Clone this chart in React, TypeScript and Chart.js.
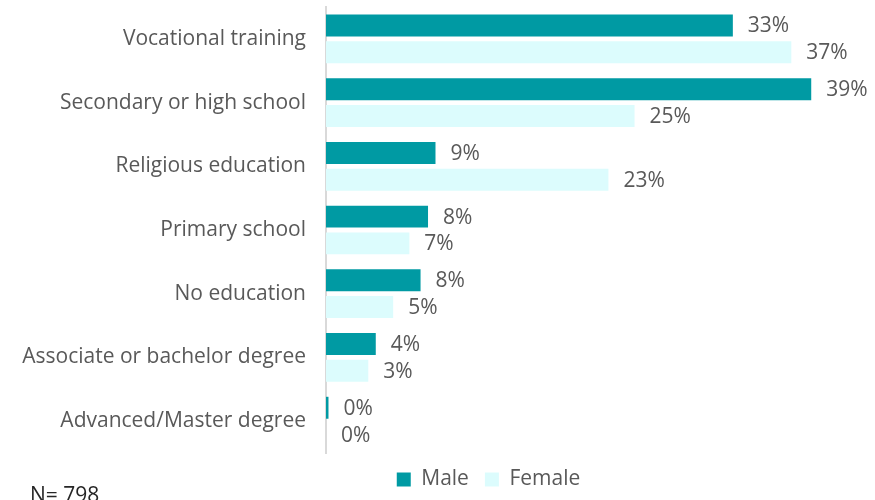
import React, { useEffect, useRef } from "react";
import { Chart, registerables } from "chart.js";

Chart.register(...registerables);

const categories = [
  "Vocational training",
  "Secondary or high school",
  "Religious education",
  "Primary school",
  "No education",
  "Associate or bachelor degree",
  "Advanced/Master degree",
];
const maleValues = [32.7, 39.0, 8.8, 8.2, 7.6, 4.0, 0.2];
const femaleValues = [37.4, 24.8, 22.7, 6.7, 5.4, 3.4, 0.0];
const seriesNames = ["Male", "Female"];
const noteText = "N= 798";

const FONT = "'Open Sans', Lato, sans-serif";
const TEXT = "#595959";
const SIZE = 21;

const valueLabels = {
  id: "valueLabels",
  afterDatasetsDraw(chart: any) {
    const ctx = chart.ctx;
    ctx.save();
    ctx.font = `${SIZE}px ${FONT}`;
    ctx.fillStyle = TEXT;
    ctx.textAlign = "left";
    ctx.textBaseline = "middle";
    chart.data.datasets.forEach((ds: any, di: number) => {
      const meta = chart.getDatasetMeta(di);
      meta.data.forEach((el: any, i: number) => {
        const v = ds.data[i];
        ctx.fillText(Math.round(v) + "%", el.x + 15, el.y + 1);
      });
    });
    ctx.restore();
  },
};

const legendShift = {
  id: "legendShift",
  afterLayout(chart: any) {
    const lg = chart.legend;
    if (lg) {
      lg.left += 58;
      lg.right += 58;
    }
  },
};

const note = {
  id: "note",
  afterDraw(chart: any) {
    const ctx = chart.ctx;
    ctx.save();
    ctx.font = `${SIZE}px ${FONT}`;
    ctx.fillStyle = "#262626";
    ctx.textAlign = "left";
    ctx.textBaseline = "alphabetic";
    ctx.fillText(noteText, 30, 502);
    ctx.restore();
  },
};

export default function App() {
  const ref = useRef<HTMLCanvasElement>(null);
  useEffect(() => {
    const chart = new Chart(ref.current!, {
      type: "bar",
      data: {
        labels: categories,
        datasets: [
          {
            label: seriesNames[0],
            data: maleValues,
            backgroundColor: "#009aa3",
            categoryPercentage: 0.84,
            barPercentage: 0.82,
          },
          {
            label: seriesNames[1],
            data: femaleValues,
            backgroundColor: "#dcfcfd",
            categoryPercentage: 0.84,
            barPercentage: 0.82,
          },
        ],
      },
      options: {
        indexAxis: "y",
        animation: false,
        responsive: true,
        maintainAspectRatio: false,
        layout: { padding: { top: 7, right: 14, left: 0, bottom: 0 } },
        scales: {
          x: {
            display: false,
            min: 0,
            max: 43,
          },
          y: {
            afterFit(scale: any) {
              scale.width = 326;
              scale.paddingTop = 0;
              scale.paddingBottom = 0;
            },
            grid: { display: false, drawTicks: false },
            border: { display: true, color: "#d9d9d9", width: 2 },
            ticks: {
              padding: 20,
              color: TEXT,
              font: { family: FONT, size: SIZE },
            },
          },
        },
        plugins: {
          legend: {
            position: "bottom",
            labels: {
              boxWidth: 14,
              boxHeight: 14,
              padding: 16,
              color: TEXT,
              font: { family: FONT, size: SIZE },
            },
          },
          tooltip: { enabled: false },
        },
      },
      plugins: [legendShift, valueLabels, note],
    });
    return () => chart.destroy();
  }, []);
  return (
    <div style={{ position: "fixed", left: 0, top: 0, width: 875, height: 500, background: "#fff" }}>
      <canvas ref={ref} />
    </div>
  );
}
